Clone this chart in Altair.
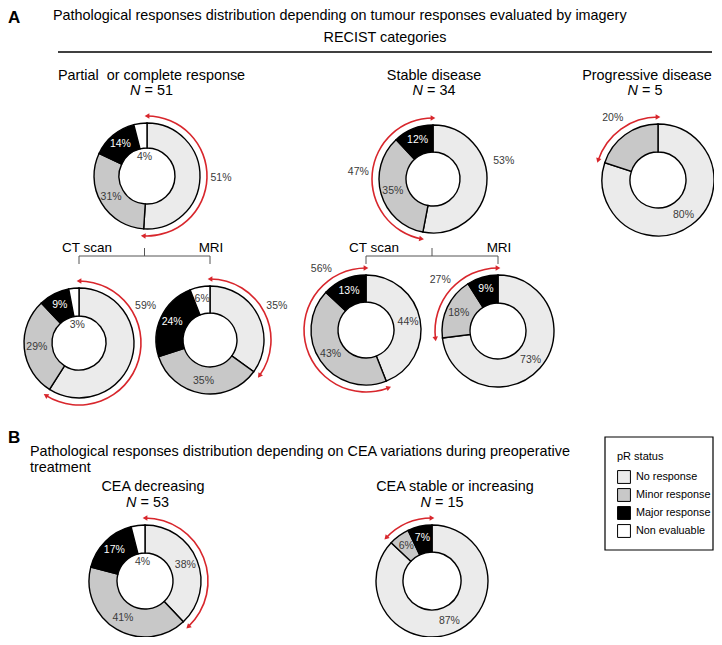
import math
import altair as alt
import pandas as pd

# ---------------- data ----------------
categories = ["No response", "Minor response", "Major response", "Non evaluable"]
fills = ["#ebebeb", "#c8c8c8", "#000000", "#ffffff"]

donuts = ["pcr", "sd", "pd", "pcr_ct", "pcr_mri", "sd_ct", "sd_mri", "cea_dec", "cea_inc"]
no_response = [51, 53, 80, 59, 35, 44, 73, 38, 87]
minor_response = [31, 35, 20, 29, 35, 43, 18, 41, 6]
major_response = [14, 12, 0, 9, 24, 13, 9, 17, 7]
non_evaluable = [4, 0, 0, 3, 6, 0, 0, 4, 0]

# red double arrows: donut, first category covered, last category covered, labelled
arc_donut = ["pcr", "sd", "pd", "pcr_ct", "pcr_mri", "sd_ct", "sd_mri", "cea_dec", "cea_inc"]
arc_first = ["No response", "Minor response", "Minor response", "No response", "No response",
             "Minor response", "Minor response", "No response", "Minor response"]
arc_last = ["No response", "Major response", "Minor response", "No response", "No response",
            "Major response", "Major response", "No response", "Major response"]
arc_labelled = [True, True, True, True, True, True, True, False, False]

group_titles = ["Partial\u00a0 or complete response", "Stable disease", "Progressive disease",
                "CEA decreasing", "CEA stable or increasing"]
group_n = [51, 34, 5, 53, 15]

title_a = "Pathological responses distribution depending on tumour responses evaluated by imagery"
title_b1 = "Pathological responses distribution depending on CEA variations during preoperative"
title_b2 = "treatment"
subheading = "RECIST categories"
sub_labels = ["CT scan", "MRI"]

# ---------------- layout (page pixels) ----------------
FONT = "Liberation Sans, Arial, Helvetica, sans-serif"
RED = "#d8262c"
DARK = "#3a3a3a"
LAYOUT = {  # cx, cy, outer r, inner r
    "pcr": (147, 176, 53, 28),
    "sd": (433, 179, 54, 27),
    "pd": (658, 180, 56, 28),
    "pcr_ct": (79, 343, 55, 27),
    "pcr_mri": (210, 340, 54, 27),
    "sd_ct": (366, 330, 55, 28),
    "sd_mri": (498, 331, 56, 28),
    "cea_dec": (145, 581, 56, 28),
    "cea_inc": (432, 581, 56, 29),
}
GROUP_POS = [  # header x, header y, N x, N y
    (151.5, 76, 151.5, 91),
    (434, 76, 434, 91),
    (647, 76, 645, 91),
    (153, 487, 147.5, 503),
    (455, 487, 442, 503),
]
BRACKETS = [("pcr", "pcr_ct", "pcr_mri", 256), ("sd", "sd_ct", "sd_mri", 256)]
# label placement tweaks (angle as percent of the turn, extra radius beyond the ring)
ARC_LABEL_AT = {"pcr_ct": 17, "sd_ct": 90}
SEG_LABEL_OUT = {("sd", "No response"): (21, 19)}

TAU = 2 * math.pi


def polar(cx, cy, r, pct):
    a = pct / 100 * TAU
    return cx + r * math.sin(a), cy - r * math.cos(a)


series = dict(zip(categories, [no_response, minor_response, major_response, non_evaluable]))

seg_rows, cum = [], {}
for i, d in enumerate(donuts):
    cx, cy, ro, ri = LAYOUT[d]
    start = 0
    for c in categories:
        v = series[c][i]
        if v <= 0:
            continue
        seg_rows.append(dict(donut=d, cat=c, t0=start, t1=start + v, cx=cx, cy=cy, ro=ro, ri=ri, v=v))
        cum[(d, c)] = (start, start + v)
        start += v
segs = pd.DataFrame(seg_rows)

arc_rows, head_rows, arc_lab_rows, solo = [], [], [], set()
for d, f, l, lab in zip(arc_donut, arc_first, arc_last, arc_labelled):
    cx, cy, ro, ri = LAYOUT[d]
    s, e = cum[(d, f)][0], cum[(d, l)][1]
    R = ro + 7
    arc_rows.append(dict(cx=cx, cy=cy, t0=s, t1=e, r1=R + 0.8, r2=R - 0.8))
    x, y = polar(cx, cy, R, s)
    head_rows.append(dict(x=x, y=y, ang=(s * 3.6 + 270) % 360))
    x, y = polar(cx, cy, R, e)
    head_rows.append(dict(x=x, y=y, ang=(e * 3.6 + 90) % 360))
    if lab:
        x, y = polar(cx, cy, R + 14, ARC_LABEL_AT.get(d, (s + e) / 2))
        arc_lab_rows.append(dict(x=x, y=y, text=f"{round(e - s)}%"))
        if f == l:
            solo.add((d, f))
arcs = pd.DataFrame(arc_rows)
heads = pd.DataFrame(head_rows)
arc_labs = pd.DataFrame(arc_lab_rows)

lab_rows = []
for r in seg_rows:
    key = (r["donut"], r["cat"])
    if key in solo:
        continue
    mid = (r["t0"] + r["t1"]) / 2
    if key in SEG_LABEL_OUT:
        mid, extra = SEG_LABEL_OUT[key]
        rr = r["ro"] + extra
    elif r["v"] < 5:
        rr = r["ri"] - 9
    else:
        rr = r["ri"] + 0.55 * (r["ro"] - r["ri"])
    x, y = polar(r["cx"], r["cy"], rr, mid)
    lab_rows.append(dict(x=x, y=y, text=f"{r['v']}%",
                         white=r["cat"] == "Major response"))
labs = pd.DataFrame(lab_rows)

# ---------------- scales ----------------
xs = alt.Scale(domain=[8, 714], nice=False, zero=False)
ys = alt.Scale(domain=[8, 637], nice=False, zero=False, reverse=True)
ts = alt.Scale(domain=[0, 100], range=[0, TAU])


def X(f="x"):
    return alt.X(f"{f}:Q", scale=xs, axis=None)


def Y(f="y"):
    return alt.Y(f"{f}:Q", scale=ys, axis=None)


# ---------------- layers ----------------
donut_layer = alt.Chart(segs).mark_arc(stroke="black", strokeWidth=1.4).encode(
    x=X("cx"), y=Y("cy"),
    theta=alt.Theta("t0:Q", scale=ts, stack=False), theta2="t1:Q",
    radius=alt.Radius("ro:Q", scale=None), radius2="ri:Q",
    color=alt.Color("cat:N", scale=alt.Scale(domain=categories, range=fills),
                    legend=alt.Legend(title="pR status", orient="none", legendX=609, legendY=443,
                                      titleFont=FONT, titleFontSize=11, titleFontWeight="normal",
                                      titleColor="black", titlePadding=8,
                                      labelFont=FONT, labelFontSize=10.8, labelColor="black",
                                      labelOffset=5, labelLimit=200, symbolType="square",
                                      symbolSize=165, symbolStrokeColor="black",
                                      symbolStrokeWidth=1, rowPadding=0, padding=0)),
)

arc_layer = alt.Chart(arcs).mark_arc(color=RED).encode(
    x=X("cx"), y=Y("cy"),
    theta=alt.Theta("t0:Q", scale=ts, stack=False), theta2="t1:Q",
    radius=alt.Radius("r1:Q", scale=None), radius2="r2:Q",
)

head_layer = alt.Chart(heads).mark_point(shape="triangle-up", filled=True, color=RED, opacity=1,
                                         size=30).encode(
    x=X(), y=Y(), angle=alt.Angle("ang:Q", scale=None))

lab_dark = alt.Chart(labs[~labs.white]).mark_text(font=FONT, fontSize=10.5, color=DARK,
                                                  baseline="middle").encode(x=X(), y=Y(), text="text:N")
lab_white = alt.Chart(labs[labs.white]).mark_text(font=FONT, fontSize=10.5, color="white",
                                                  baseline="middle").encode(x=X(), y=Y(), text="text:N")
arc_lab_layer = alt.Chart(arc_labs).mark_text(font=FONT, fontSize=10.5, color=DARK,
                                              baseline="middle").encode(x=X(), y=Y(), text="text:N")

# brackets and rules
rule_rows = [dict(x=58, y=52, x2=712, y2=52, w=1.5)]
for p, a, b, yb in BRACKETS:
    xa, xb = LAYOUT[a][0], LAYOUT[b][0]
    xm = (xa + xb) / 2
    rule_rows += [dict(x=xa, y=yb, x2=xb, y2=yb, w=1), dict(x=xa, y=yb, x2=xa, y2=yb + 8, w=1),
                  dict(x=xb, y=yb, x2=xb, y2=yb + 8, w=1), dict(x=xm, y=yb - 8, x2=xm, y2=yb, w=1)]
rules = pd.DataFrame(rule_rows)
rule_layer = alt.Chart(rules[rules.w > 1.2]).mark_rule(color="black", strokeWidth=1.5).encode(
    x=X(), y=Y(), x2="x2:Q", y2="y2:Q")
bracket_layer = alt.Chart(rules[rules.w <= 1.2]).mark_rule(color="#555555", strokeWidth=1).encode(
    x=X(), y=Y(), x2="x2:Q", y2="y2:Q")

box = pd.DataFrame([dict(x=605, y=437, x2=713, y2=550)])
box_layer = alt.Chart(box).mark_rect(fillOpacity=0, stroke="black", strokeWidth=1.2).encode(
    x=X(), y=Y(), x2="x2:Q", y2="y2:Q")

# texts
left_txt = pd.DataFrame([
    dict(x=53, y=16, text=title_a),
    dict(x=30, y=452, text=title_b1),
    dict(x=30, y=468, text=title_b2),
])
bold_txt = pd.DataFrame([dict(x=8, y=18, text="A"), dict(x=8, y=438, text="B")])
center_rows = [dict(x=385, y=38, text=subheading)]
for (hx, hy, nx, ny), t in zip(GROUP_POS, group_titles):
    center_rows.append(dict(x=hx, y=hy, text=t))
center_txt = pd.DataFrame(center_rows)
sub_rows = []
for p, a, b, yb in BRACKETS:
    sub_rows.append(dict(x=LAYOUT[a][0] + 8, y=yb - 8, text=sub_labels[0]))
    sub_rows.append(dict(x=LAYOUT[b][0] + 1, y=yb - 8, text=sub_labels[1]))
sub_txt = pd.DataFrame(sub_rows)

FS = 14.4
n_it, n_rest = [], []
for (hx, hy, nx, ny), n in zip(GROUP_POS, group_n):
    w = (0.722 + 0.278 + 0.584 + 0.278 + 0.556 * len(str(n))) * FS
    left = nx - w / 2
    n_it.append(dict(x=left, y=ny, text="N"))
    n_rest.append(dict(x=left + (0.722 + 0.278) * FS, y=ny, text=f"= {n}"))
n_it = pd.DataFrame(n_it)
n_rest = pd.DataFrame(n_rest)


def txt(df, **kw):
    base = dict(font=FONT, baseline="middle", color="black")
    base.update(kw)
    return alt.Chart(df).mark_text(**base).encode(x=X(), y=Y(), text="text:N")


text_layers = [
    txt(left_txt, align="left", fontSize=FS),
    txt(bold_txt, align="left", fontSize=17, fontWeight="bold"),
    txt(center_txt, align="center", fontSize=FS),
    txt(sub_txt, align="center", fontSize=13.5),
    txt(n_it, align="left", fontSize=FS, fontStyle="italic"),
    txt(n_rest, align="left", fontSize=FS),
]

chart = alt.layer(
    rule_layer, bracket_layer, box_layer, arc_layer, head_layer, donut_layer,
    lab_dark, lab_white, arc_lab_layer, *text_layers
).properties(
    width=706, height=629, padding=0, autosize=alt.AutoSizeParams(type="none")
).configure_view(stroke=None)

chart.save("out.html", embed_options={"renderer": "svg", "actions": False})
